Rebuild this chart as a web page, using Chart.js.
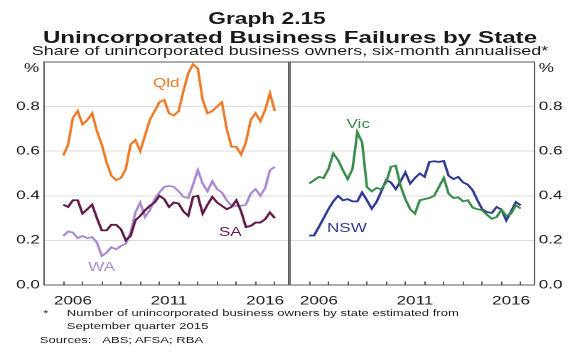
<!DOCTYPE html>
<html>
<head>
<meta charset="utf-8">
<script src="https://cdn.jsdelivr.net/npm/chart.js"></script>
<style>
  html, body { margin: 0; padding: 0; background: #fff; overflow: hidden; }
  /* the reference is a horizontally stretched chart, so draw narrow and stretch */
  #wrap { position: absolute; left: 0; top: 0; width: 408px; height: 352px;
          transform: scaleX(1.4216); transform-origin: 0 0;
          font-family: "Liberation Sans", Arial, sans-serif; color: #1a1a1a; }
  .box { position: absolute; left: 0; top: 0; width: 408px; height: 352px; }
  .txt { position: absolute; white-space: nowrap; line-height: 1; }
  .lbl { position: absolute; white-space: nowrap; line-height: 1; font-size: 12px; transform: translateX(-50%); }
</style>
</head>
<body>
<div id="wrap">
  <div class="txt" style="left:187.8px;transform:translateX(-50%);top:10.5px;font-size:16px;font-weight:bold">Graph 2.15</div>
  <div class="txt" style="left:0;width:408px;text-align:center;top:29px;font-size:17px;font-weight:bold">Unincorporated Business Failures by State</div>
  <div class="txt" style="left:0;width:408px;text-align:center;top:44.8px;font-size:12.6px">Share of unincorporated business owners, six-month annualised*</div>

  <div class="box"><canvas id="chart-left"></canvas></div>
  <div class="box"><canvas id="chart-right"></canvas></div>

  <div class="txt" style="left:0;width:27.6px;text-align:right;top:62px;font-size:12px">%</div>
  <div class="txt" style="left:379px;top:62px;font-size:12px">%</div>

  <div class="lbl" style="left:117px;top:76.5px;color:#ec7a27">Qld</div>
  <div class="lbl" style="left:162px;top:226px;color:#5e1b45">SA</div>
  <div class="lbl" style="left:71.5px;top:261px;color:#a98bd0">WA</div>
  <div class="lbl" style="left:252px;top:118px;color:#3a8c4c">Vic</div>
  <div class="lbl" style="left:244px;top:221.5px;color:#2f3a8f">NSW</div>

  <div class="txt" style="left:30.5px;top:309px;font-size:9.2px">*</div>
  <div class="txt" style="left:47px;top:309px;font-size:9.2px">Number of unincorporated business owners by state estimated from</div>
  <div class="txt" style="left:47px;top:321.5px;font-size:9.2px">September quarter 2015</div>
  <div class="txt" style="left:28px;top:335.5px;font-size:9.2px">Sources:&nbsp;&nbsp;&nbsp;ABS; AFSA; RBA</div>
</div>

<script>
// quarters (end of quarter)
const quarters = [
    "Dec-05",
    "Mar-06", "Jun-06", "Sep-06", "Dec-06",
    "Mar-07", "Jun-07", "Sep-07", "Dec-07",
    "Mar-08", "Jun-08", "Sep-08", "Dec-08",
    "Mar-09", "Jun-09", "Sep-09", "Dec-09",
    "Mar-10", "Jun-10", "Sep-10", "Dec-10",
    "Mar-11", "Jun-11", "Sep-11", "Dec-11",
    "Mar-12", "Jun-12", "Sep-12", "Dec-12",
    "Mar-13", "Jun-13", "Sep-13", "Dec-13",
    "Mar-14", "Jun-14", "Sep-14", "Dec-14",
    "Mar-15", "Jun-15", "Sep-15", "Dec-15",
    "Mar-16", "Jun-16", "Sep-16", "Dec-16",
];

// left panel
const qld = [0.58, 0.63, 0.75, 0.78, 0.72, 0.74, 0.77, 0.69, 0.63, 0.55, 0.49, 0.47, 0.48, 0.52, 0.63,
    0.65, 0.60, 0.67, 0.74, 0.78, 0.82, 0.83, 0.77, 0.76, 0.78, 0.87, 0.95, 0.99, 0.97, 0.83,
    0.77, 0.78, 0.80, 0.82, 0.70, 0.62, 0.62, 0.585, 0.64, 0.74, 0.77, 0.735, 0.785, 0.86, 0.78];
const sa = [0.36, 0.35, 0.38, 0.38, 0.32, 0.34, 0.36, 0.30, 0.245, 0.245, 0.27, 0.27, 0.25, 0.20, 0.22,
    0.29, 0.31, 0.335, 0.355, 0.37, 0.40, 0.385, 0.35, 0.37, 0.365, 0.33, 0.31, 0.395, 0.40, 0.32,
    0.36, 0.395, 0.37, 0.355, 0.34, 0.35, 0.38, 0.33, 0.26, 0.265, 0.28, 0.28, 0.295, 0.325, 0.30];
const wa = [0.22, 0.24, 0.235, 0.21, 0.22, 0.21, 0.215, 0.19, 0.13, 0.145, 0.17, 0.16, 0.175, 0.185, 0.235,
    0.325, 0.37, 0.305, 0.335, 0.385, 0.415, 0.44, 0.445, 0.44, 0.42, 0.395, 0.39, 0.45, 0.515, 0.455,
    0.42, 0.465, 0.43, 0.415, 0.38, 0.355, 0.355, 0.355, 0.36, 0.41, 0.43, 0.40, 0.435, 0.515, 0.53];

// right panel
const vic = [0.455, 0.47, 0.485, 0.48, 0.52, 0.59, 0.56, 0.515, 0.475, 0.52, 0.685, 0.64, 0.44, 0.42, 0.435,
    0.43, 0.46, 0.53, 0.535, 0.445, 0.385, 0.34, 0.32, 0.38, 0.385, 0.39, 0.40, 0.44, 0.48, 0.41,
    0.39, 0.393, 0.375, 0.38, 0.347, 0.34, 0.335, 0.315, 0.297, 0.305, 0.338, 0.31, 0.32, 0.357, 0.343];
const nsw = [0.222, 0.222, 0.26, 0.30, 0.34, 0.375, 0.40, 0.38, 0.385, 0.375, 0.375, 0.415, 0.38, 0.342, 0.372,
    0.42, 0.47, 0.46, 0.43, 0.465, 0.505, 0.455, 0.48, 0.50, 0.485, 0.552, 0.555, 0.552, 0.556, 0.49,
    0.475, 0.485, 0.46, 0.45, 0.425, 0.38, 0.34, 0.327, 0.323, 0.35, 0.338, 0.29, 0.33, 0.372, 0.357];

// axes
const xTickLabels = ["2006", "2011", "2016"];
const xTickMarks = [2006, 2007, 2008, 2009, 2010, 2011, 2012, 2013, 2014, 2015, 2016, 2017];
const yTicks = [0, 0.2, 0.4, 0.6, 0.8, 1.0];

const monthOf = { Mar: 3, Jun: 6, Sep: 9, Dec: 12 };
const quarterYears = quarters.map(function (q) {
    const parts = q.split("-");
    return 2000 + Number(parts[1]) + monthOf[parts[0]] / 12;
});

Chart.defaults.font.family = '"Liberation Sans", Arial, sans-serif';
Chart.defaults.font.size = 12;
Chart.defaults.color = "#1a1a1a";

// frame + small inward year ticks
const framePlugin = {
    id: "frame",
    afterDraw(chart) {
        const { ctx, chartArea } = chart;
        const xs = chart.scales.x;
        ctx.save();
        ctx.strokeStyle = "#5a5a5a";
        ctx.lineWidth = 1;
        ctx.strokeRect(chartArea.left, chartArea.top, chartArea.right - chartArea.left, chartArea.bottom - chartArea.top);
        ctx.beginPath();
        xTickMarks.forEach(function (yr) {
            const px = Math.round(xs.getPixelForValue(yr));
            ctx.moveTo(px, chartArea.bottom);
            ctx.lineTo(px, chartArea.bottom - 3.5);
        });
        ctx.stroke();
        ctx.restore();
    },
};

function line(label, values, colour) {
    return {
        label: label,
        data: values,
        borderColor: colour,
        backgroundColor: colour,
        borderWidth: 1.8,
        pointRadius: 0,
        tension: 0,
        fill: false,
    };
}

function panelConfig(datasets, side) {
    return {
        type: "line",
        data: { labels: quarterYears, datasets: datasets },
        options: {
            responsive: true,
            maintainAspectRatio: false,
            animation: false,
            devicePixelRatio: 2,
            events: [],
            layout: {
                padding: side === "left"
                    ? { top: 62, right: 205, left: 0, bottom: 0 }
                    : { top: 62, right: 0, left: 204, bottom: 0 },
            },
            plugins: {
                legend: { display: false },
                tooltip: { enabled: false },
            },
            scales: {
                x: {
                    type: "linear",
                    min: 2005,
                    max: 2017.72,
                    grid: { display: false },
                    border: { display: false },
                    afterBuildTicks: function (scale) {
                        scale.ticks = xTickLabels.map(function (t) {
                            return { value: Number(t) + 0.5 };
                        });
                    },
                    ticks: {
                        autoSkip: false,
                        maxRotation: 0,
                        padding: 1,
                        font: { size: 12 },
                        callback: function (value) {
                            return String(Math.floor(value));
                        },
                    },
                    afterFit: function (scale) {
                        scale.height = 67;
                    },
                },
                y: {
                    position: side,
                    min: 0,
                    max: 1,
                    afterBuildTicks: function (scale) {
                        scale.ticks = yTicks.map(function (v) {
                            return { value: v };
                        });
                    },
                    grid: { color: "#dddddd", drawTicks: false },
                    border: { display: false },
                    ticks: {
                        padding: 3,
                        font: { size: 12 },
                        callback: function (value) {
                            return value >= 1 ? "" : value.toFixed(1);
                        },
                    },
                    afterFit: function (scale) {
                        scale.width = side === "left" ? 31 : 32;
                    },
                },
            },
        },
        plugins: [framePlugin],
    };
}

new Chart(document.getElementById("chart-left"), panelConfig([
    line("SA", sa, "#5e1b45"),
    line("WA", wa, "#a98bd0"),
    line("Qld", qld, "#ec7a27"),
], "left"));

new Chart(document.getElementById("chart-right"), panelConfig([
    line("Vic", vic, "#3a8c4c"),
    line("NSW", nsw, "#2f3a8f"),
], "right"));
</script>
</body>
</html>
